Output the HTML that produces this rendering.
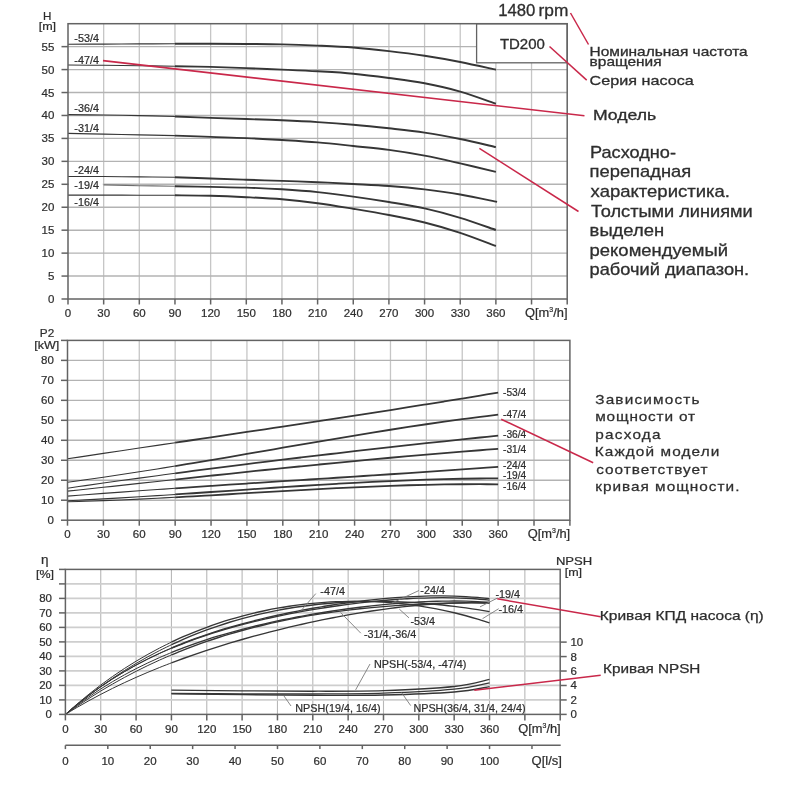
<!DOCTYPE html>
<html><head><meta charset="utf-8"><title>TD200 pump curves</title>
<style>
html,body{margin:0;padding:0;background:#fff;width:800px;height:800px;overflow:hidden}
svg{display:block}
text{font-family:"Liberation Sans", Arial, sans-serif}
</style></head>
<body>
<svg width="800" height="800" viewBox="0 0 800 800">
<rect width="800" height="800" fill="#fff"/>
<line x1="103.66" y1="23.70" x2="103.66" y2="299.00" stroke="#c6c6c6" stroke-width="1.3"/>
<line x1="139.31" y1="23.70" x2="139.31" y2="299.00" stroke="#c6c6c6" stroke-width="1.3"/>
<line x1="174.97" y1="23.70" x2="174.97" y2="299.00" stroke="#c6c6c6" stroke-width="1.3"/>
<line x1="210.63" y1="23.70" x2="210.63" y2="299.00" stroke="#c6c6c6" stroke-width="1.3"/>
<line x1="246.29" y1="23.70" x2="246.29" y2="299.00" stroke="#c6c6c6" stroke-width="1.3"/>
<line x1="281.94" y1="23.70" x2="281.94" y2="299.00" stroke="#c6c6c6" stroke-width="1.3"/>
<line x1="317.60" y1="23.70" x2="317.60" y2="299.00" stroke="#c6c6c6" stroke-width="1.3"/>
<line x1="353.26" y1="23.70" x2="353.26" y2="299.00" stroke="#c6c6c6" stroke-width="1.3"/>
<line x1="388.91" y1="23.70" x2="388.91" y2="299.00" stroke="#c6c6c6" stroke-width="1.3"/>
<line x1="424.57" y1="23.70" x2="424.57" y2="299.00" stroke="#c6c6c6" stroke-width="1.3"/>
<line x1="460.23" y1="23.70" x2="460.23" y2="299.00" stroke="#c6c6c6" stroke-width="1.3"/>
<line x1="495.89" y1="23.70" x2="495.89" y2="299.00" stroke="#c6c6c6" stroke-width="1.3"/>
<line x1="531.54" y1="23.70" x2="531.54" y2="299.00" stroke="#c6c6c6" stroke-width="1.3"/>
<line x1="68.00" y1="276.06" x2="567.20" y2="276.06" stroke="#b3b3b3" stroke-width="1.4"/>
<line x1="68.00" y1="253.12" x2="567.20" y2="253.12" stroke="#b3b3b3" stroke-width="1.4"/>
<line x1="68.00" y1="230.18" x2="567.20" y2="230.18" stroke="#b3b3b3" stroke-width="1.4"/>
<line x1="68.00" y1="207.23" x2="567.20" y2="207.23" stroke="#b3b3b3" stroke-width="1.4"/>
<line x1="68.00" y1="184.29" x2="567.20" y2="184.29" stroke="#b3b3b3" stroke-width="1.4"/>
<line x1="68.00" y1="161.35" x2="567.20" y2="161.35" stroke="#b3b3b3" stroke-width="1.4"/>
<line x1="68.00" y1="138.41" x2="567.20" y2="138.41" stroke="#b3b3b3" stroke-width="1.4"/>
<line x1="68.00" y1="115.47" x2="567.20" y2="115.47" stroke="#b3b3b3" stroke-width="1.4"/>
<line x1="68.00" y1="92.53" x2="567.20" y2="92.53" stroke="#b3b3b3" stroke-width="1.4"/>
<line x1="68.00" y1="69.58" x2="567.20" y2="69.58" stroke="#b3b3b3" stroke-width="1.4"/>
<line x1="68.00" y1="46.64" x2="567.20" y2="46.64" stroke="#b3b3b3" stroke-width="1.4"/>
<path d="M68.00,44.25 C73.94,44.23 91.77,44.16 103.66,44.10 C115.54,44.04 127.43,43.96 139.31,43.90 C151.20,43.84 169.03,43.77 174.97,43.75" fill="none" stroke="#363636" stroke-width="1.1"/>
<path d="M174.97,43.75 C180.91,43.75 198.74,43.71 210.63,43.75 C222.51,43.79 234.40,43.89 246.29,44.00 C258.17,44.11 270.06,44.13 281.94,44.40 C293.83,44.67 305.71,45.08 317.60,45.60 C329.49,46.12 341.37,46.58 353.26,47.50 C365.14,48.42 377.03,49.72 388.91,51.10 C400.80,52.48 412.69,53.98 424.57,55.80 C436.46,57.62 448.34,59.67 460.23,62.00 C472.11,64.33 489.94,68.46 495.89,69.75" fill="none" stroke="#363636" stroke-width="1.9"/>
<path d="M68.00,65.00 C73.94,65.05 91.77,65.18 103.66,65.30 C115.54,65.42 127.43,65.54 139.31,65.70 C151.20,65.86 169.03,66.16 174.97,66.25" fill="none" stroke="#363636" stroke-width="1.1"/>
<path d="M174.97,66.25 C180.91,66.36 198.74,66.59 210.63,66.90 C222.51,67.21 234.40,67.65 246.29,68.10 C258.17,68.55 270.06,69.07 281.94,69.60 C293.83,70.13 305.71,70.62 317.60,71.30 C329.49,71.98 341.37,72.58 353.26,73.70 C365.14,74.82 377.03,76.40 388.91,78.00 C400.80,79.60 412.69,81.03 424.57,83.30 C436.46,85.57 448.34,88.19 460.23,91.60 C472.11,95.01 489.94,101.72 495.89,103.75" fill="none" stroke="#363636" stroke-width="1.9"/>
<path d="M68.00,114.60 C73.94,114.67 91.77,114.83 103.66,115.00 C115.54,115.17 127.43,115.35 139.31,115.60 C151.20,115.85 169.03,116.35 174.97,116.50" fill="none" stroke="#363636" stroke-width="1.1"/>
<path d="M174.97,116.50 C180.91,116.73 198.74,117.48 210.63,117.90 C222.51,118.32 234.40,118.60 246.29,119.00 C258.17,119.40 270.06,119.78 281.94,120.30 C293.83,120.82 305.71,121.37 317.60,122.10 C329.49,122.83 341.37,123.67 353.26,124.70 C365.14,125.73 377.03,126.98 388.91,128.30 C400.80,129.62 412.69,130.82 424.57,132.60 C436.46,134.38 448.34,136.58 460.23,139.00 C472.11,141.42 489.94,145.75 495.89,147.10" fill="none" stroke="#363636" stroke-width="1.9"/>
<path d="M68.00,133.40 C73.94,133.52 91.77,133.85 103.66,134.10 C115.54,134.35 127.43,134.65 139.31,134.90 C151.20,135.15 169.03,135.48 174.97,135.60" fill="none" stroke="#363636" stroke-width="1.1"/>
<path d="M174.97,135.60 C180.91,135.82 198.74,136.48 210.63,136.90 C222.51,137.32 234.40,137.58 246.29,138.10 C258.17,138.62 270.06,139.28 281.94,140.00 C293.83,140.72 305.71,141.40 317.60,142.40 C329.49,143.40 341.37,144.75 353.26,146.00 C365.14,147.25 377.03,148.30 388.91,149.90 C400.80,151.50 412.69,153.35 424.57,155.60 C436.46,157.85 448.34,160.68 460.23,163.40 C472.11,166.12 489.94,170.48 495.89,171.90" fill="none" stroke="#363636" stroke-width="1.9"/>
<path d="M68.00,176.50 C73.94,176.50 91.77,176.43 103.66,176.50 C115.54,176.57 127.43,176.78 139.31,176.90 C151.20,177.03 169.03,177.19 174.97,177.25" fill="none" stroke="#363636" stroke-width="1.1"/>
<path d="M174.97,177.25 C180.91,177.46 198.74,178.08 210.63,178.50 C222.51,178.92 234.40,179.35 246.29,179.75 C258.17,180.15 270.06,180.49 281.94,180.90 C293.83,181.31 305.71,181.68 317.60,182.20 C329.49,182.72 341.37,183.37 353.26,184.00 C365.14,184.63 377.03,185.10 388.91,186.00 C400.80,186.90 412.69,187.98 424.57,189.40 C436.46,190.82 448.14,192.42 460.23,194.50 C472.31,196.58 490.93,200.67 497.07,201.90" fill="none" stroke="#363636" stroke-width="1.9"/>
<path d="M103.66,184.90 C109.60,185.03 127.43,185.47 139.31,185.70 C151.20,185.92 169.03,186.16 174.97,186.25" fill="none" stroke="#6e6e6e" stroke-width="1.1"/>
<path d="M174.97,186.25 C180.91,186.36 198.74,186.68 210.63,186.90 C222.51,187.12 234.40,187.20 246.29,187.60 C258.17,188.00 270.06,188.55 281.94,189.30 C293.83,190.05 305.71,190.88 317.60,192.10 C329.49,193.32 341.37,194.95 353.26,196.60 C365.14,198.25 377.03,200.03 388.91,202.00 C400.80,203.97 412.69,205.77 424.57,208.40 C436.46,211.03 448.34,214.20 460.23,217.80 C472.11,221.40 489.94,227.97 495.89,230.00" fill="none" stroke="#363636" stroke-width="1.9"/>
<path d="M68.00,195.10 C73.94,195.10 91.77,195.08 103.66,195.10 C115.54,195.12 127.43,195.17 139.31,195.20 C151.20,195.22 169.03,195.24 174.97,195.25" fill="none" stroke="#363636" stroke-width="1.1"/>
<path d="M174.97,195.25 C180.91,195.34 198.74,195.48 210.63,195.80 C222.51,196.12 234.40,196.62 246.29,197.20 C258.17,197.78 270.06,198.30 281.94,199.30 C293.83,200.30 305.71,201.62 317.60,203.20 C329.49,204.78 341.37,206.83 353.26,208.80 C365.14,210.77 377.03,212.72 388.91,215.00 C400.80,217.28 412.69,219.53 424.57,222.50 C436.46,225.47 448.34,228.88 460.23,232.80 C472.11,236.72 489.94,243.80 495.89,246.00" fill="none" stroke="#363636" stroke-width="1.9"/>
<rect x="69.0" y="180.2" width="33.8" height="10.6" fill="#fff"/>
<text x="74.30" y="42.00" font-size="10.8" text-anchor="start" fill="#2e2e2e" stroke="#2e2e2e" stroke-width="0.22">-53/4</text>
<text x="74.30" y="63.50" font-size="10.8" text-anchor="start" fill="#2e2e2e" stroke="#2e2e2e" stroke-width="0.22">-47/4</text>
<text x="74.30" y="112.20" font-size="10.8" text-anchor="start" fill="#2e2e2e" stroke="#2e2e2e" stroke-width="0.22">-36/4</text>
<text x="74.30" y="131.90" font-size="10.8" text-anchor="start" fill="#2e2e2e" stroke="#2e2e2e" stroke-width="0.22">-31/4</text>
<text x="74.30" y="174.40" font-size="10.8" text-anchor="start" fill="#2e2e2e" stroke="#2e2e2e" stroke-width="0.22">-24/4</text>
<text x="74.30" y="189.40" font-size="10.8" text-anchor="start" fill="#2e2e2e" stroke="#2e2e2e" stroke-width="0.22">-19/4</text>
<text x="74.30" y="205.60" font-size="10.8" text-anchor="start" fill="#2e2e2e" stroke="#2e2e2e" stroke-width="0.22">-16/4</text>
<rect x="476.6" y="23.70" width="90.60" height="39.10" fill="#fff" stroke="#636363" stroke-width="1.3"/>
<rect x="68.0" y="23.7" width="499.20" height="275.30" fill="none" stroke="#636363" stroke-width="1.5"/>
<line x1="61.50" y1="299.00" x2="68.00" y2="299.00" stroke="#636363" stroke-width="1.5"/>
<text x="54.30" y="303.00" font-size="11.5" text-anchor="end" fill="#2e2e2e" stroke="#2e2e2e" stroke-width="0.22">0</text>
<line x1="61.50" y1="276.06" x2="68.00" y2="276.06" stroke="#636363" stroke-width="1.5"/>
<text x="54.30" y="280.06" font-size="11.5" text-anchor="end" fill="#2e2e2e" stroke="#2e2e2e" stroke-width="0.22">5</text>
<line x1="61.50" y1="253.12" x2="68.00" y2="253.12" stroke="#636363" stroke-width="1.5"/>
<text x="54.30" y="257.12" font-size="11.5" text-anchor="end" fill="#2e2e2e" stroke="#2e2e2e" stroke-width="0.22">10</text>
<line x1="61.50" y1="230.18" x2="68.00" y2="230.18" stroke="#636363" stroke-width="1.5"/>
<text x="54.30" y="234.18" font-size="11.5" text-anchor="end" fill="#2e2e2e" stroke="#2e2e2e" stroke-width="0.22">15</text>
<line x1="61.50" y1="207.23" x2="68.00" y2="207.23" stroke="#636363" stroke-width="1.5"/>
<text x="54.30" y="211.23" font-size="11.5" text-anchor="end" fill="#2e2e2e" stroke="#2e2e2e" stroke-width="0.22">20</text>
<line x1="61.50" y1="184.29" x2="68.00" y2="184.29" stroke="#636363" stroke-width="1.5"/>
<text x="54.30" y="188.29" font-size="11.5" text-anchor="end" fill="#2e2e2e" stroke="#2e2e2e" stroke-width="0.22">25</text>
<line x1="61.50" y1="161.35" x2="68.00" y2="161.35" stroke="#636363" stroke-width="1.5"/>
<text x="54.30" y="165.35" font-size="11.5" text-anchor="end" fill="#2e2e2e" stroke="#2e2e2e" stroke-width="0.22">30</text>
<line x1="61.50" y1="138.41" x2="68.00" y2="138.41" stroke="#636363" stroke-width="1.5"/>
<text x="54.30" y="142.41" font-size="11.5" text-anchor="end" fill="#2e2e2e" stroke="#2e2e2e" stroke-width="0.22">35</text>
<line x1="61.50" y1="115.47" x2="68.00" y2="115.47" stroke="#636363" stroke-width="1.5"/>
<text x="54.30" y="119.47" font-size="11.5" text-anchor="end" fill="#2e2e2e" stroke="#2e2e2e" stroke-width="0.22">40</text>
<line x1="61.50" y1="92.53" x2="68.00" y2="92.53" stroke="#636363" stroke-width="1.5"/>
<text x="54.30" y="96.53" font-size="11.5" text-anchor="end" fill="#2e2e2e" stroke="#2e2e2e" stroke-width="0.22">45</text>
<line x1="61.50" y1="69.58" x2="68.00" y2="69.58" stroke="#636363" stroke-width="1.5"/>
<text x="54.30" y="73.58" font-size="11.5" text-anchor="end" fill="#2e2e2e" stroke="#2e2e2e" stroke-width="0.22">50</text>
<line x1="61.50" y1="46.64" x2="68.00" y2="46.64" stroke="#636363" stroke-width="1.5"/>
<text x="54.30" y="50.64" font-size="11.5" text-anchor="end" fill="#2e2e2e" stroke="#2e2e2e" stroke-width="0.22">55</text>
<line x1="68.00" y1="299.00" x2="68.00" y2="304.50" stroke="#636363" stroke-width="1.5"/>
<text x="68.00" y="317.00" font-size="11.5" text-anchor="middle" fill="#2e2e2e" stroke="#2e2e2e" stroke-width="0.22">0</text>
<line x1="103.66" y1="299.00" x2="103.66" y2="304.50" stroke="#636363" stroke-width="1.5"/>
<text x="103.66" y="317.00" font-size="11.5" text-anchor="middle" fill="#2e2e2e" stroke="#2e2e2e" stroke-width="0.22">30</text>
<line x1="139.31" y1="299.00" x2="139.31" y2="304.50" stroke="#636363" stroke-width="1.5"/>
<text x="139.31" y="317.00" font-size="11.5" text-anchor="middle" fill="#2e2e2e" stroke="#2e2e2e" stroke-width="0.22">60</text>
<line x1="174.97" y1="299.00" x2="174.97" y2="304.50" stroke="#636363" stroke-width="1.5"/>
<text x="174.97" y="317.00" font-size="11.5" text-anchor="middle" fill="#2e2e2e" stroke="#2e2e2e" stroke-width="0.22">90</text>
<line x1="210.63" y1="299.00" x2="210.63" y2="304.50" stroke="#636363" stroke-width="1.5"/>
<text x="210.63" y="317.00" font-size="11.5" text-anchor="middle" fill="#2e2e2e" stroke="#2e2e2e" stroke-width="0.22">120</text>
<line x1="246.29" y1="299.00" x2="246.29" y2="304.50" stroke="#636363" stroke-width="1.5"/>
<text x="246.29" y="317.00" font-size="11.5" text-anchor="middle" fill="#2e2e2e" stroke="#2e2e2e" stroke-width="0.22">150</text>
<line x1="281.94" y1="299.00" x2="281.94" y2="304.50" stroke="#636363" stroke-width="1.5"/>
<text x="281.94" y="317.00" font-size="11.5" text-anchor="middle" fill="#2e2e2e" stroke="#2e2e2e" stroke-width="0.22">180</text>
<line x1="317.60" y1="299.00" x2="317.60" y2="304.50" stroke="#636363" stroke-width="1.5"/>
<text x="317.60" y="317.00" font-size="11.5" text-anchor="middle" fill="#2e2e2e" stroke="#2e2e2e" stroke-width="0.22">210</text>
<line x1="353.26" y1="299.00" x2="353.26" y2="304.50" stroke="#636363" stroke-width="1.5"/>
<text x="353.26" y="317.00" font-size="11.5" text-anchor="middle" fill="#2e2e2e" stroke="#2e2e2e" stroke-width="0.22">240</text>
<line x1="388.91" y1="299.00" x2="388.91" y2="304.50" stroke="#636363" stroke-width="1.5"/>
<text x="388.91" y="317.00" font-size="11.5" text-anchor="middle" fill="#2e2e2e" stroke="#2e2e2e" stroke-width="0.22">270</text>
<line x1="424.57" y1="299.00" x2="424.57" y2="304.50" stroke="#636363" stroke-width="1.5"/>
<text x="424.57" y="317.00" font-size="11.5" text-anchor="middle" fill="#2e2e2e" stroke="#2e2e2e" stroke-width="0.22">300</text>
<line x1="460.23" y1="299.00" x2="460.23" y2="304.50" stroke="#636363" stroke-width="1.5"/>
<text x="460.23" y="317.00" font-size="11.5" text-anchor="middle" fill="#2e2e2e" stroke="#2e2e2e" stroke-width="0.22">330</text>
<line x1="495.89" y1="299.00" x2="495.89" y2="304.50" stroke="#636363" stroke-width="1.5"/>
<text x="495.89" y="317.00" font-size="11.5" text-anchor="middle" fill="#2e2e2e" stroke="#2e2e2e" stroke-width="0.22">360</text>
<line x1="531.54" y1="299.00" x2="531.54" y2="304.50" stroke="#636363" stroke-width="1.5"/>
<line x1="567.20" y1="299.00" x2="567.20" y2="304.50" stroke="#636363" stroke-width="1.5"/>
<text x="525.00" y="317.20" font-size="12" text-anchor="start" textLength="42.5" lengthAdjust="spacingAndGlyphs" fill="#2e2e2e" stroke="#2e2e2e" stroke-width="0.22">Q[m<tspan font-size="6.5" dy="-5">3</tspan><tspan dy="5">/h]</tspan></text>
<text x="43.10" y="19.60" font-size="11.5" text-anchor="start" textLength="8.4" lengthAdjust="spacingAndGlyphs" fill="#2e2e2e" stroke="#2e2e2e" stroke-width="0.22">H</text>
<text x="38.70" y="30.10" font-size="10.8" text-anchor="start" textLength="17.4" lengthAdjust="spacingAndGlyphs" fill="#2e2e2e" stroke="#2e2e2e" stroke-width="0.22">[m]</text>
<line x1="103.39" y1="340.40" x2="103.39" y2="520.20" stroke="#c6c6c6" stroke-width="1.3"/>
<line x1="139.27" y1="340.40" x2="139.27" y2="520.20" stroke="#c6c6c6" stroke-width="1.3"/>
<line x1="175.16" y1="340.40" x2="175.16" y2="520.20" stroke="#c6c6c6" stroke-width="1.3"/>
<line x1="211.04" y1="340.40" x2="211.04" y2="520.20" stroke="#c6c6c6" stroke-width="1.3"/>
<line x1="246.93" y1="340.40" x2="246.93" y2="520.20" stroke="#c6c6c6" stroke-width="1.3"/>
<line x1="282.81" y1="340.40" x2="282.81" y2="520.20" stroke="#c6c6c6" stroke-width="1.3"/>
<line x1="318.70" y1="340.40" x2="318.70" y2="520.20" stroke="#c6c6c6" stroke-width="1.3"/>
<line x1="354.59" y1="340.40" x2="354.59" y2="520.20" stroke="#c6c6c6" stroke-width="1.3"/>
<line x1="390.47" y1="340.40" x2="390.47" y2="520.20" stroke="#c6c6c6" stroke-width="1.3"/>
<line x1="426.36" y1="340.40" x2="426.36" y2="520.20" stroke="#c6c6c6" stroke-width="1.3"/>
<line x1="462.24" y1="340.40" x2="462.24" y2="520.20" stroke="#c6c6c6" stroke-width="1.3"/>
<line x1="498.13" y1="340.40" x2="498.13" y2="520.20" stroke="#c6c6c6" stroke-width="1.3"/>
<line x1="534.01" y1="340.40" x2="534.01" y2="520.20" stroke="#c6c6c6" stroke-width="1.3"/>
<line x1="67.50" y1="500.22" x2="569.90" y2="500.22" stroke="#b3b3b3" stroke-width="1.4"/>
<line x1="67.50" y1="480.24" x2="569.90" y2="480.24" stroke="#b3b3b3" stroke-width="1.4"/>
<line x1="67.50" y1="460.27" x2="569.90" y2="460.27" stroke="#b3b3b3" stroke-width="1.4"/>
<line x1="67.50" y1="440.29" x2="569.90" y2="440.29" stroke="#b3b3b3" stroke-width="1.4"/>
<line x1="67.50" y1="420.31" x2="569.90" y2="420.31" stroke="#b3b3b3" stroke-width="1.4"/>
<line x1="67.50" y1="400.33" x2="569.90" y2="400.33" stroke="#b3b3b3" stroke-width="1.4"/>
<line x1="67.50" y1="380.36" x2="569.90" y2="380.36" stroke="#b3b3b3" stroke-width="1.4"/>
<line x1="67.50" y1="360.38" x2="569.90" y2="360.38" stroke="#b3b3b3" stroke-width="1.4"/>
<path d="M67.50,458.80 C70.49,458.35 79.46,456.99 85.44,456.09 C91.42,455.19 97.40,454.29 103.39,453.39 C109.37,452.49 115.35,451.59 121.33,450.70 C127.31,449.80 133.29,448.91 139.27,448.02 C145.25,447.12 151.23,446.23 157.21,445.34 C163.20,444.45 172.17,443.12 175.16,442.67" fill="none" stroke="#363636" stroke-width="1.1"/>
<path d="M175.16,442.67 C178.15,442.23 187.12,440.89 193.10,440.00 C199.08,439.11 205.06,438.22 211.04,437.33 C217.02,436.44 223.00,435.55 228.99,434.65 C234.97,433.76 240.95,432.87 246.93,431.97 C252.91,431.08 258.89,430.18 264.87,429.29 C270.85,428.39 276.83,427.49 282.81,426.59 C288.80,425.69 294.78,424.78 300.76,423.88 C306.74,422.97 312.72,422.06 318.70,421.15 C324.68,420.24 330.66,419.33 336.64,418.41 C342.62,417.49 348.60,416.57 354.59,415.65 C360.57,414.72 366.55,413.79 372.53,412.86 C378.51,411.93 384.49,410.99 390.47,410.05 C396.45,409.11 402.43,408.17 408.41,407.21 C414.40,406.26 420.38,405.31 426.36,404.35 C432.34,403.39 438.32,402.42 444.30,401.45 C450.28,400.48 456.26,399.50 462.24,398.52 C468.22,397.54 474.20,396.55 480.19,395.55 C486.17,394.56 495.14,393.05 498.13,392.55" fill="none" stroke="#363636" stroke-width="1.8"/>
<path d="M67.50,482.22 C70.49,481.81 79.46,480.62 85.44,479.79 C91.42,478.96 97.40,478.11 103.39,477.24 C109.37,476.37 115.35,475.49 121.33,474.58 C127.31,473.68 133.29,472.76 139.27,471.83 C145.25,470.90 151.23,469.95 157.21,468.99 C163.20,468.03 172.17,466.56 175.16,466.08" fill="none" stroke="#363636" stroke-width="1.1"/>
<path d="M175.16,466.08 C178.15,465.58 187.12,464.10 193.10,463.10 C199.08,462.10 205.06,461.09 211.04,460.08 C217.02,459.06 223.00,458.04 228.99,457.02 C234.97,455.99 240.95,454.96 246.93,453.93 C252.91,452.90 258.89,451.86 264.87,450.83 C270.85,449.80 276.83,448.76 282.81,447.73 C288.80,446.69 294.78,445.66 300.76,444.63 C306.74,443.61 312.72,442.58 318.70,441.56 C324.68,440.54 330.66,439.53 336.64,438.53 C342.62,437.52 348.60,436.52 354.59,435.53 C360.57,434.55 366.55,433.57 372.53,432.60 C378.51,431.63 384.49,430.68 390.47,429.74 C396.45,428.79 402.43,427.86 408.41,426.95 C414.40,426.04 420.38,425.14 426.36,424.26 C432.34,423.38 438.32,422.52 444.30,421.68 C450.28,420.84 456.26,420.01 462.24,419.21 C468.22,418.41 474.20,417.63 480.19,416.87 C486.17,416.12 495.14,415.04 498.13,414.68" fill="none" stroke="#363636" stroke-width="1.8"/>
<path d="M67.50,488.18 C70.49,487.75 79.46,486.46 85.44,485.60 C91.42,484.75 97.40,483.90 103.39,483.06 C109.37,482.22 115.35,481.39 121.33,480.56 C127.31,479.73 133.29,478.91 139.27,478.10 C145.25,477.28 151.23,476.47 157.21,475.67 C163.20,474.87 172.17,473.68 175.16,473.28" fill="none" stroke="#363636" stroke-width="1.1"/>
<path d="M175.16,473.28 C178.15,472.89 187.12,471.71 193.10,470.93 C199.08,470.15 205.06,469.37 211.04,468.61 C217.02,467.84 223.00,467.08 228.99,466.32 C234.97,465.56 240.95,464.81 246.93,464.07 C252.91,463.32 258.89,462.58 264.87,461.85 C270.85,461.11 276.83,460.38 282.81,459.66 C288.80,458.94 294.78,458.22 300.76,457.50 C306.74,456.79 312.72,456.08 318.70,455.38 C324.68,454.67 330.66,453.98 336.64,453.28 C342.62,452.59 348.60,451.90 354.59,451.22 C360.57,450.53 366.55,449.85 372.53,449.18 C378.51,448.50 384.49,447.83 390.47,447.17 C396.45,446.50 402.43,445.84 408.41,445.18 C414.40,444.53 420.38,443.87 426.36,443.23 C432.34,442.58 438.32,441.93 444.30,441.30 C450.28,440.66 456.26,440.02 462.24,439.39 C468.22,438.76 474.20,438.13 480.19,437.51 C486.17,436.88 495.14,435.96 498.13,435.65" fill="none" stroke="#363636" stroke-width="1.8"/>
<path d="M67.50,491.16 C70.49,490.84 79.46,489.87 85.44,489.23 C91.42,488.59 97.40,487.94 103.39,487.30 C109.37,486.65 115.35,486.01 121.33,485.36 C127.31,484.71 133.29,484.06 139.27,483.42 C145.25,482.77 151.23,482.12 157.21,481.48 C163.20,480.83 172.17,479.86 175.16,479.54" fill="none" stroke="#363636" stroke-width="1.1"/>
<path d="M175.16,479.54 C178.15,479.22 187.12,478.25 193.10,477.61 C199.08,476.97 205.06,476.33 211.04,475.69 C217.02,475.05 223.00,474.42 228.99,473.78 C234.97,473.15 240.95,472.52 246.93,471.89 C252.91,471.27 258.89,470.64 264.87,470.02 C270.85,469.40 276.83,468.79 282.81,468.17 C288.80,467.56 294.78,466.96 300.76,466.35 C306.74,465.75 312.72,465.15 318.70,464.56 C324.68,463.97 330.66,463.38 336.64,462.80 C342.62,462.22 348.60,461.64 354.59,461.07 C360.57,460.50 366.55,459.94 372.53,459.38 C378.51,458.83 384.49,458.28 390.47,457.74 C396.45,457.19 402.43,456.66 408.41,456.13 C414.40,455.61 420.38,455.09 426.36,454.58 C432.34,454.07 438.32,453.56 444.30,453.07 C450.28,452.58 456.26,452.09 462.24,451.62 C468.22,451.15 474.20,450.68 480.19,450.23 C486.17,449.77 495.14,449.11 498.13,448.89" fill="none" stroke="#363636" stroke-width="1.8"/>
<path d="M67.50,496.14 C70.49,495.91 79.46,495.21 85.44,494.76 C91.42,494.31 97.40,493.86 103.39,493.41 C109.37,492.97 115.35,492.53 121.33,492.10 C127.31,491.67 133.29,491.24 139.27,490.81 C145.25,490.39 151.23,489.97 157.21,489.55 C163.20,489.13 172.17,488.52 175.16,488.31" fill="none" stroke="#363636" stroke-width="1.1"/>
<path d="M175.16,488.31 C178.15,488.11 187.12,487.50 193.10,487.09 C199.08,486.69 205.06,486.29 211.04,485.89 C217.02,485.49 223.00,485.10 228.99,484.70 C234.97,484.31 240.95,483.92 246.93,483.53 C252.91,483.14 258.89,482.75 264.87,482.36 C270.85,481.98 276.83,481.59 282.81,481.20 C288.80,480.82 294.78,480.43 300.76,480.05 C306.74,479.66 312.72,479.28 318.70,478.89 C324.68,478.51 330.66,478.12 336.64,477.74 C342.62,477.35 348.60,476.96 354.59,476.58 C360.57,476.19 366.55,475.80 372.53,475.41 C378.51,475.02 384.49,474.63 390.47,474.23 C396.45,473.84 402.43,473.44 408.41,473.04 C414.40,472.64 420.38,472.24 426.36,471.84 C432.34,471.43 438.32,471.02 444.30,470.61 C450.28,470.20 456.26,469.79 462.24,469.37 C468.22,468.95 474.20,468.53 480.19,468.10 C486.17,467.68 495.14,467.03 498.13,466.81" fill="none" stroke="#363636" stroke-width="1.8"/>
<path d="M67.50,500.73 C70.49,500.58 79.46,500.16 85.44,499.85 C91.42,499.55 97.40,499.22 103.39,498.89 C109.37,498.56 115.35,498.22 121.33,497.87 C127.31,497.51 133.29,497.15 139.27,496.78 C145.25,496.40 151.23,496.02 157.21,495.64 C163.20,495.25 172.17,494.65 175.16,494.46" fill="none" stroke="#363636" stroke-width="1.1"/>
<path d="M175.16,494.46 C178.15,494.26 187.12,493.66 193.10,493.25 C199.08,492.84 205.06,492.43 211.04,492.02 C217.02,491.61 223.00,491.20 228.99,490.79 C234.97,490.38 240.95,489.97 246.93,489.56 C252.91,489.15 258.89,488.74 264.87,488.34 C270.85,487.94 276.83,487.54 282.81,487.14 C288.80,486.75 294.78,486.36 300.76,485.98 C306.74,485.60 312.72,485.23 318.70,484.86 C324.68,484.50 330.66,484.14 336.64,483.80 C342.62,483.45 348.60,483.12 354.59,482.80 C360.57,482.48 366.55,482.17 372.53,481.88 C378.51,481.58 384.49,481.30 390.47,481.04 C396.45,480.78 402.43,480.53 408.41,480.30 C414.40,480.07 420.38,479.86 426.36,479.67 C432.34,479.48 438.32,479.30 444.30,479.15 C450.28,479.00 456.26,478.87 462.24,478.77 C468.22,478.66 474.20,478.58 480.19,478.52 C486.17,478.46 495.14,478.43 498.13,478.42" fill="none" stroke="#363636" stroke-width="1.8"/>
<path d="M67.50,501.78 C70.49,501.69 79.46,501.46 85.44,501.27 C91.42,501.08 97.40,500.87 103.39,500.65 C109.37,500.43 115.35,500.18 121.33,499.93 C127.31,499.68 133.29,499.41 139.27,499.13 C145.25,498.84 151.23,498.55 157.21,498.25 C163.20,497.94 172.17,497.46 175.16,497.30" fill="none" stroke="#363636" stroke-width="1.1"/>
<path d="M175.16,497.30 C178.15,497.14 187.12,496.65 193.10,496.31 C199.08,495.98 205.06,495.63 211.04,495.29 C217.02,494.94 223.00,494.59 228.99,494.24 C234.97,493.89 240.95,493.53 246.93,493.18 C252.91,492.83 258.89,492.47 264.87,492.12 C270.85,491.77 276.83,491.42 282.81,491.08 C288.80,490.74 294.78,490.40 300.76,490.06 C306.74,489.73 312.72,489.40 318.70,489.09 C324.68,488.77 330.66,488.46 336.64,488.17 C342.62,487.87 348.60,487.58 354.59,487.31 C360.57,487.04 366.55,486.77 372.53,486.53 C378.51,486.28 384.49,486.05 390.47,485.84 C396.45,485.63 402.43,485.43 408.41,485.26 C414.40,485.08 420.38,484.92 426.36,484.79 C432.34,484.65 438.32,484.54 444.30,484.45 C450.28,484.36 456.26,484.29 462.24,484.25 C468.22,484.21 474.20,484.19 480.19,484.21 C486.17,484.22 495.14,484.31 498.13,484.33" fill="none" stroke="#363636" stroke-width="1.8"/>
<text x="503.00" y="395.80" font-size="10.2" text-anchor="start" fill="#2e2e2e" stroke="#2e2e2e" stroke-width="0.22">-53/4</text>
<text x="503.00" y="417.70" font-size="10.2" text-anchor="start" fill="#2e2e2e" stroke="#2e2e2e" stroke-width="0.22">-47/4</text>
<text x="503.00" y="438.30" font-size="10.2" text-anchor="start" fill="#2e2e2e" stroke="#2e2e2e" stroke-width="0.22">-36/4</text>
<text x="503.00" y="452.80" font-size="10.2" text-anchor="start" fill="#2e2e2e" stroke="#2e2e2e" stroke-width="0.22">-31/4</text>
<text x="503.00" y="469.30" font-size="10.2" text-anchor="start" fill="#2e2e2e" stroke="#2e2e2e" stroke-width="0.22">-24/4</text>
<text x="503.00" y="478.80" font-size="10.2" text-anchor="start" fill="#2e2e2e" stroke="#2e2e2e" stroke-width="0.22">-19/4</text>
<text x="503.00" y="490.30" font-size="10.2" text-anchor="start" fill="#2e2e2e" stroke="#2e2e2e" stroke-width="0.22">-16/4</text>
<rect x="67.5" y="340.4" width="502.40" height="179.80" fill="none" stroke="#636363" stroke-width="1.5"/>
<line x1="61.00" y1="520.20" x2="67.50" y2="520.20" stroke="#636363" stroke-width="1.5"/>
<text x="53.80" y="524.20" font-size="11.5" text-anchor="end" fill="#2e2e2e" stroke="#2e2e2e" stroke-width="0.22">0</text>
<line x1="61.00" y1="500.22" x2="67.50" y2="500.22" stroke="#636363" stroke-width="1.5"/>
<text x="53.80" y="504.22" font-size="11.5" text-anchor="end" fill="#2e2e2e" stroke="#2e2e2e" stroke-width="0.22">10</text>
<line x1="61.00" y1="480.24" x2="67.50" y2="480.24" stroke="#636363" stroke-width="1.5"/>
<text x="53.80" y="484.24" font-size="11.5" text-anchor="end" fill="#2e2e2e" stroke="#2e2e2e" stroke-width="0.22">20</text>
<line x1="61.00" y1="460.27" x2="67.50" y2="460.27" stroke="#636363" stroke-width="1.5"/>
<text x="53.80" y="464.27" font-size="11.5" text-anchor="end" fill="#2e2e2e" stroke="#2e2e2e" stroke-width="0.22">30</text>
<line x1="61.00" y1="440.29" x2="67.50" y2="440.29" stroke="#636363" stroke-width="1.5"/>
<text x="53.80" y="444.29" font-size="11.5" text-anchor="end" fill="#2e2e2e" stroke="#2e2e2e" stroke-width="0.22">40</text>
<line x1="61.00" y1="420.31" x2="67.50" y2="420.31" stroke="#636363" stroke-width="1.5"/>
<text x="53.80" y="424.31" font-size="11.5" text-anchor="end" fill="#2e2e2e" stroke="#2e2e2e" stroke-width="0.22">50</text>
<line x1="61.00" y1="400.33" x2="67.50" y2="400.33" stroke="#636363" stroke-width="1.5"/>
<text x="53.80" y="404.33" font-size="11.5" text-anchor="end" fill="#2e2e2e" stroke="#2e2e2e" stroke-width="0.22">60</text>
<line x1="61.00" y1="380.36" x2="67.50" y2="380.36" stroke="#636363" stroke-width="1.5"/>
<text x="53.80" y="384.36" font-size="11.5" text-anchor="end" fill="#2e2e2e" stroke="#2e2e2e" stroke-width="0.22">70</text>
<line x1="61.00" y1="360.38" x2="67.50" y2="360.38" stroke="#636363" stroke-width="1.5"/>
<text x="53.80" y="364.38" font-size="11.5" text-anchor="end" fill="#2e2e2e" stroke="#2e2e2e" stroke-width="0.22">80</text>
<line x1="61.00" y1="340.40" x2="67.50" y2="340.40" stroke="#636363" stroke-width="1.5"/>
<line x1="67.50" y1="520.20" x2="67.50" y2="525.70" stroke="#636363" stroke-width="1.5"/>
<text x="67.50" y="538.00" font-size="11.5" text-anchor="middle" fill="#2e2e2e" stroke="#2e2e2e" stroke-width="0.22">0</text>
<line x1="103.39" y1="520.20" x2="103.39" y2="525.70" stroke="#636363" stroke-width="1.5"/>
<text x="103.39" y="538.00" font-size="11.5" text-anchor="middle" fill="#2e2e2e" stroke="#2e2e2e" stroke-width="0.22">30</text>
<line x1="139.27" y1="520.20" x2="139.27" y2="525.70" stroke="#636363" stroke-width="1.5"/>
<text x="139.27" y="538.00" font-size="11.5" text-anchor="middle" fill="#2e2e2e" stroke="#2e2e2e" stroke-width="0.22">60</text>
<line x1="175.16" y1="520.20" x2="175.16" y2="525.70" stroke="#636363" stroke-width="1.5"/>
<text x="175.16" y="538.00" font-size="11.5" text-anchor="middle" fill="#2e2e2e" stroke="#2e2e2e" stroke-width="0.22">90</text>
<line x1="211.04" y1="520.20" x2="211.04" y2="525.70" stroke="#636363" stroke-width="1.5"/>
<text x="211.04" y="538.00" font-size="11.5" text-anchor="middle" fill="#2e2e2e" stroke="#2e2e2e" stroke-width="0.22">120</text>
<line x1="246.93" y1="520.20" x2="246.93" y2="525.70" stroke="#636363" stroke-width="1.5"/>
<text x="246.93" y="538.00" font-size="11.5" text-anchor="middle" fill="#2e2e2e" stroke="#2e2e2e" stroke-width="0.22">150</text>
<line x1="282.81" y1="520.20" x2="282.81" y2="525.70" stroke="#636363" stroke-width="1.5"/>
<text x="282.81" y="538.00" font-size="11.5" text-anchor="middle" fill="#2e2e2e" stroke="#2e2e2e" stroke-width="0.22">180</text>
<line x1="318.70" y1="520.20" x2="318.70" y2="525.70" stroke="#636363" stroke-width="1.5"/>
<text x="318.70" y="538.00" font-size="11.5" text-anchor="middle" fill="#2e2e2e" stroke="#2e2e2e" stroke-width="0.22">210</text>
<line x1="354.59" y1="520.20" x2="354.59" y2="525.70" stroke="#636363" stroke-width="1.5"/>
<text x="354.59" y="538.00" font-size="11.5" text-anchor="middle" fill="#2e2e2e" stroke="#2e2e2e" stroke-width="0.22">240</text>
<line x1="390.47" y1="520.20" x2="390.47" y2="525.70" stroke="#636363" stroke-width="1.5"/>
<text x="390.47" y="538.00" font-size="11.5" text-anchor="middle" fill="#2e2e2e" stroke="#2e2e2e" stroke-width="0.22">270</text>
<line x1="426.36" y1="520.20" x2="426.36" y2="525.70" stroke="#636363" stroke-width="1.5"/>
<text x="426.36" y="538.00" font-size="11.5" text-anchor="middle" fill="#2e2e2e" stroke="#2e2e2e" stroke-width="0.22">300</text>
<line x1="462.24" y1="520.20" x2="462.24" y2="525.70" stroke="#636363" stroke-width="1.5"/>
<text x="462.24" y="538.00" font-size="11.5" text-anchor="middle" fill="#2e2e2e" stroke="#2e2e2e" stroke-width="0.22">330</text>
<line x1="498.13" y1="520.20" x2="498.13" y2="525.70" stroke="#636363" stroke-width="1.5"/>
<text x="498.13" y="538.00" font-size="11.5" text-anchor="middle" fill="#2e2e2e" stroke="#2e2e2e" stroke-width="0.22">360</text>
<line x1="534.01" y1="520.20" x2="534.01" y2="525.70" stroke="#636363" stroke-width="1.5"/>
<line x1="569.90" y1="520.20" x2="569.90" y2="525.70" stroke="#636363" stroke-width="1.5"/>
<text x="527.70" y="538.20" font-size="12" text-anchor="start" textLength="42.5" lengthAdjust="spacingAndGlyphs" fill="#2e2e2e" stroke="#2e2e2e" stroke-width="0.22">Q[m<tspan font-size="6.5" dy="-5">3</tspan><tspan dy="5">/h]</tspan></text>
<text x="39.80" y="336.90" font-size="11.5" text-anchor="start" textLength="14.4" lengthAdjust="spacingAndGlyphs" fill="#2e2e2e" stroke="#2e2e2e" stroke-width="0.22">P2</text>
<text x="34.30" y="349.10" font-size="10.8" text-anchor="start" textLength="24.9" lengthAdjust="spacingAndGlyphs" fill="#2e2e2e" stroke="#2e2e2e" stroke-width="0.22">[kW]</text>
<line x1="100.74" y1="569.40" x2="100.74" y2="714.40" stroke="#b8b8b8" stroke-width="1.1"/>
<line x1="136.09" y1="569.40" x2="136.09" y2="714.40" stroke="#b8b8b8" stroke-width="1.1"/>
<line x1="171.43" y1="569.40" x2="171.43" y2="714.40" stroke="#b8b8b8" stroke-width="1.1"/>
<line x1="206.77" y1="569.40" x2="206.77" y2="714.40" stroke="#b8b8b8" stroke-width="1.1"/>
<line x1="242.11" y1="569.40" x2="242.11" y2="714.40" stroke="#b8b8b8" stroke-width="1.1"/>
<line x1="277.46" y1="569.40" x2="277.46" y2="714.40" stroke="#b8b8b8" stroke-width="1.1"/>
<line x1="312.80" y1="569.40" x2="312.80" y2="714.40" stroke="#b8b8b8" stroke-width="1.1"/>
<line x1="348.14" y1="569.40" x2="348.14" y2="714.40" stroke="#b8b8b8" stroke-width="1.1"/>
<line x1="383.49" y1="569.40" x2="383.49" y2="714.40" stroke="#b8b8b8" stroke-width="1.1"/>
<line x1="418.83" y1="569.40" x2="418.83" y2="714.40" stroke="#b8b8b8" stroke-width="1.1"/>
<line x1="454.17" y1="569.40" x2="454.17" y2="714.40" stroke="#b8b8b8" stroke-width="1.1"/>
<line x1="489.51" y1="569.40" x2="489.51" y2="714.40" stroke="#b8b8b8" stroke-width="1.1"/>
<line x1="524.86" y1="569.40" x2="524.86" y2="714.40" stroke="#b8b8b8" stroke-width="1.1"/>
<line x1="65.40" y1="699.90" x2="560.20" y2="699.90" stroke="#cecece" stroke-width="1.6"/>
<line x1="65.40" y1="685.40" x2="560.20" y2="685.40" stroke="#cecece" stroke-width="1.6"/>
<line x1="65.40" y1="670.90" x2="560.20" y2="670.90" stroke="#cecece" stroke-width="1.6"/>
<line x1="65.40" y1="656.40" x2="560.20" y2="656.40" stroke="#cecece" stroke-width="1.6"/>
<line x1="65.40" y1="641.90" x2="560.20" y2="641.90" stroke="#cecece" stroke-width="1.6"/>
<line x1="65.40" y1="627.40" x2="560.20" y2="627.40" stroke="#cecece" stroke-width="1.6"/>
<line x1="65.40" y1="612.90" x2="560.20" y2="612.90" stroke="#cecece" stroke-width="1.6"/>
<line x1="65.40" y1="598.40" x2="560.20" y2="598.40" stroke="#cecece" stroke-width="1.6"/>
<line x1="65.40" y1="583.90" x2="560.20" y2="583.90" stroke="#cecece" stroke-width="1.6"/>
<path d="M65.40,714.40 C67.36,712.66 73.25,707.32 77.18,703.95 C81.11,700.58 85.03,697.32 88.96,694.17 C92.89,691.02 96.82,687.98 100.74,685.03 C104.67,682.09 108.60,679.25 112.52,676.51 C116.45,673.77 120.38,671.12 124.30,668.57 C128.23,666.02 132.16,663.56 136.09,661.19 C140.01,658.82 143.94,656.54 147.87,654.34 C151.79,652.14 155.72,650.03 159.65,647.99 C163.57,645.96 169.47,643.11 171.43,642.13" fill="none" stroke="#363636" stroke-width="1.0"/>
<path d="M171.43,642.13 C173.39,641.23 179.28,638.46 183.21,636.74 C187.14,635.01 191.06,633.37 194.99,631.79 C198.92,630.21 202.84,628.70 206.77,627.26 C210.70,625.82 214.63,624.45 218.55,623.14 C222.48,621.84 226.41,620.60 230.33,619.42 C234.26,618.24 238.19,617.13 242.11,616.07 C246.04,615.02 249.97,614.03 253.90,613.09 C257.82,612.16 261.75,611.29 265.68,610.47 C269.60,609.65 273.53,608.89 277.46,608.19 C281.38,607.48 285.31,606.83 289.24,606.24 C293.17,605.65 297.09,605.11 301.02,604.62 C304.95,604.14 308.87,603.71 312.80,603.33 C316.73,602.95 320.65,602.62 324.58,602.35 C328.51,602.08 332.43,601.86 336.36,601.69 C340.29,601.52 344.22,601.41 348.14,601.34 C352.07,601.28 356.00,601.27 359.92,601.31 C363.85,601.35 367.78,601.44 371.70,601.59 C375.63,601.73 379.56,601.93 383.49,602.18 C387.41,602.44 391.34,602.74 395.27,603.10 C399.19,603.46 403.12,603.88 407.05,604.35 C410.97,604.82 414.90,605.34 418.83,605.93 C422.76,606.51 426.68,607.15 430.61,607.85 C434.54,608.54 438.46,609.30 442.39,610.12 C446.32,610.93 450.24,611.81 454.17,612.75 C458.10,613.69 462.03,614.69 465.95,615.76 C469.88,616.82 473.81,617.95 477.73,619.15 C481.66,620.35 487.55,622.32 489.51,622.95" fill="none" stroke="#363636" stroke-width="1.35"/>
<path d="M65.40,714.40 C67.36,712.75 73.25,707.72 77.18,704.53 C81.11,701.34 85.03,698.24 88.96,695.24 C92.89,692.23 96.82,689.32 100.74,686.50 C104.67,683.68 108.60,680.95 112.52,678.31 C116.45,675.66 120.38,673.10 124.30,670.63 C128.23,668.15 132.16,665.76 136.09,663.45 C140.01,661.14 143.94,658.91 147.87,656.76 C151.79,654.60 155.72,652.53 159.65,650.53 C163.57,648.53 169.47,645.71 171.43,644.75" fill="none" stroke="#363636" stroke-width="1.0"/>
<path d="M171.43,644.75 C173.39,643.86 179.28,641.11 183.21,639.40 C187.14,637.68 191.06,636.04 194.99,634.47 C198.92,632.89 202.84,631.38 206.77,629.94 C210.70,628.49 214.63,627.11 218.55,625.79 C222.48,624.47 226.41,623.22 230.33,622.02 C234.26,620.82 238.19,619.69 242.11,618.61 C246.04,617.53 249.97,616.51 253.90,615.54 C257.82,614.57 261.75,613.66 265.68,612.81 C269.60,611.95 273.53,611.15 277.46,610.39 C281.38,609.64 285.31,608.94 289.24,608.29 C293.17,607.64 297.09,607.04 301.02,606.49 C304.95,605.94 308.87,605.43 312.80,604.98 C316.73,604.52 320.65,604.11 324.58,603.74 C328.51,603.37 332.43,603.05 336.36,602.78 C340.29,602.50 344.22,602.27 348.14,602.07 C352.07,601.88 356.00,601.73 359.92,601.62 C363.85,601.52 367.78,601.45 371.70,601.42 C375.63,601.39 379.56,601.41 383.49,601.46 C387.41,601.51 391.34,601.60 395.27,601.72 C399.19,601.85 403.12,602.02 407.05,602.22 C410.97,602.42 414.90,602.66 418.83,602.93 C422.76,603.21 426.68,603.52 430.61,603.86 C434.54,604.21 438.46,604.59 442.39,605.01 C446.32,605.42 450.24,605.87 454.17,606.36 C458.10,606.84 462.03,607.36 465.95,607.91 C469.88,608.46 473.81,609.05 477.73,609.67 C481.66,610.29 487.55,611.30 489.51,611.63" fill="none" stroke="#363636" stroke-width="1.35"/>
<path d="M65.40,714.40 C67.36,712.74 73.25,707.61 77.18,704.41 C81.11,701.21 85.03,698.15 88.96,695.20 C92.89,692.25 96.82,689.43 100.74,686.71 C104.67,683.99 108.60,681.39 112.52,678.88 C116.45,676.37 120.38,673.97 124.30,671.66 C128.23,669.35 132.16,667.14 136.09,665.01 C140.01,662.88 143.94,660.84 147.87,658.87 C151.79,656.91 155.72,655.03 159.65,653.22 C163.57,651.40 169.47,648.86 171.43,647.99" fill="none" stroke="#363636" stroke-width="1.0"/>
<path d="M171.43,647.99 C173.39,647.19 179.28,644.71 183.21,643.16 C187.14,641.61 191.06,640.13 194.99,638.70 C198.92,637.27 202.84,635.89 206.77,634.57 C210.70,633.24 214.63,631.96 218.55,630.73 C222.48,629.50 226.41,628.32 230.33,627.17 C234.26,626.03 238.19,624.93 242.11,623.86 C246.04,622.80 249.97,621.78 253.90,620.79 C257.82,619.79 261.75,618.84 265.68,617.92 C269.60,616.99 273.53,616.10 277.46,615.24 C281.38,614.38 285.31,613.55 289.24,612.75 C293.17,611.95 297.09,611.18 301.02,610.43 C304.95,609.68 308.87,608.96 312.80,608.27 C316.73,607.58 320.65,606.91 324.58,606.27 C328.51,605.63 332.43,605.02 336.36,604.43 C340.29,603.84 344.22,603.28 348.14,602.74 C352.07,602.21 356.00,601.70 359.92,601.22 C363.85,600.74 367.78,600.28 371.70,599.86 C375.63,599.43 379.56,599.04 383.49,598.67 C387.41,598.31 391.34,597.98 395.27,597.68 C399.19,597.38 403.12,597.11 407.05,596.88 C410.97,596.65 414.90,596.45 418.83,596.30 C422.76,596.14 426.68,596.02 430.61,595.95 C434.54,595.88 438.46,595.85 442.39,595.87 C446.32,595.89 450.24,595.95 454.17,596.07 C458.10,596.18 462.03,596.35 465.95,596.58 C469.88,596.80 473.81,597.08 477.73,597.43 C481.66,597.78 487.55,598.45 489.51,598.66" fill="none" stroke="#363636" stroke-width="1.35"/>
<path d="M65.40,714.40 C67.36,712.73 73.25,707.61 77.18,704.41 C81.11,701.21 85.03,698.15 88.96,695.20 C92.89,692.26 96.82,689.44 100.74,686.72 C104.67,684.01 108.60,681.41 112.52,678.91 C116.45,676.42 120.38,674.03 124.30,671.73 C128.23,669.43 132.16,667.23 136.09,665.11 C140.01,663.00 143.94,660.98 147.87,659.03 C151.79,657.08 155.72,655.22 159.65,653.42 C163.57,651.63 169.47,649.12 171.43,648.26" fill="none" stroke="#363636" stroke-width="1.0"/>
<path d="M171.43,648.26 C173.39,647.47 179.28,645.03 183.21,643.51 C187.14,641.98 191.06,640.52 194.99,639.12 C198.92,637.71 202.84,636.37 206.77,635.07 C210.70,633.77 214.63,632.52 218.55,631.32 C222.48,630.12 226.41,628.97 230.33,627.86 C234.26,626.74 238.19,625.68 242.11,624.64 C246.04,623.61 249.97,622.62 253.90,621.66 C257.82,620.71 261.75,619.79 265.68,618.90 C269.60,618.01 273.53,617.15 277.46,616.32 C281.38,615.50 285.31,614.70 289.24,613.93 C293.17,613.16 297.09,612.43 301.02,611.71 C304.95,611.00 308.87,610.31 312.80,609.65 C316.73,608.99 320.65,608.36 324.58,607.75 C328.51,607.13 332.43,606.55 336.36,605.99 C340.29,605.43 344.22,604.89 348.14,604.38 C352.07,603.87 356.00,603.39 359.92,602.93 C363.85,602.47 367.78,602.04 371.70,601.63 C375.63,601.23 379.56,600.85 383.49,600.50 C387.41,600.15 391.34,599.82 395.27,599.53 C399.19,599.24 403.12,598.98 407.05,598.76 C410.97,598.53 414.90,598.33 418.83,598.18 C422.76,598.02 426.68,597.90 430.61,597.82 C434.54,597.74 438.46,597.69 442.39,597.69 C446.32,597.69 450.24,597.74 454.17,597.83 C458.10,597.92 462.03,598.06 465.95,598.25 C469.88,598.44 473.81,598.68 477.73,598.99 C481.66,599.29 487.55,599.89 489.51,600.07" fill="none" stroke="#363636" stroke-width="1.35"/>
<path d="M65.40,714.40 C67.36,712.88 73.25,708.20 77.18,705.26 C81.11,702.33 85.03,699.51 88.96,696.79 C92.89,694.07 96.82,691.46 100.74,688.94 C104.67,686.42 108.60,684.00 112.52,681.66 C116.45,679.33 120.38,677.08 124.30,674.92 C128.23,672.75 132.16,670.68 136.09,668.67 C140.01,666.67 143.94,664.74 147.87,662.88 C151.79,661.03 155.72,659.24 159.65,657.52 C163.57,655.80 169.47,653.38 171.43,652.55" fill="none" stroke="#363636" stroke-width="1.0"/>
<path d="M171.43,652.55 C173.39,651.78 179.28,649.42 183.21,647.93 C187.14,646.45 191.06,645.03 194.99,643.65 C198.92,642.27 202.84,640.95 206.77,639.67 C210.70,638.39 214.63,637.16 218.55,635.97 C222.48,634.78 226.41,633.64 230.33,632.53 C234.26,631.43 238.19,630.36 242.11,629.33 C246.04,628.30 249.97,627.31 253.90,626.34 C257.82,625.38 261.75,624.46 265.68,623.56 C269.60,622.66 273.53,621.80 277.46,620.96 C281.38,620.13 285.31,619.32 289.24,618.54 C293.17,617.76 297.09,617.01 301.02,616.29 C304.95,615.56 308.87,614.86 312.80,614.19 C316.73,613.51 320.65,612.86 324.58,612.24 C328.51,611.61 332.43,611.01 336.36,610.43 C340.29,609.86 344.22,609.30 348.14,608.78 C352.07,608.25 356.00,607.74 359.92,607.26 C363.85,606.78 367.78,606.33 371.70,605.89 C375.63,605.46 379.56,605.06 383.49,604.68 C387.41,604.30 391.34,603.94 395.27,603.62 C399.19,603.29 403.12,602.99 407.05,602.72 C410.97,602.45 414.90,602.21 418.83,602.00 C422.76,601.80 426.68,601.62 430.61,601.47 C434.54,601.33 438.46,601.22 442.39,601.14 C446.32,601.07 450.24,601.03 454.17,601.03 C458.10,601.04 462.03,601.08 465.95,601.16 C469.88,601.25 473.81,601.37 477.73,601.55 C481.66,601.72 487.55,602.10 489.51,602.21" fill="none" stroke="#363636" stroke-width="1.35"/>
<path d="M65.40,714.40 C67.36,713.03 73.25,708.84 77.18,706.17 C81.11,703.50 85.03,700.91 88.96,698.39 C92.89,695.86 96.82,693.41 100.74,691.02 C104.67,688.64 108.60,686.32 112.52,684.07 C116.45,681.82 120.38,679.63 124.30,677.51 C128.23,675.38 132.16,673.33 136.09,671.33 C140.01,669.33 143.94,667.39 147.87,665.51 C151.79,663.63 155.72,661.81 159.65,660.04 C163.57,658.28 169.47,655.77 171.43,654.91" fill="none" stroke="#363636" stroke-width="1.0"/>
<path d="M171.43,654.91 C173.39,654.11 179.28,651.66 183.21,650.11 C187.14,648.56 191.06,647.06 194.99,645.61 C198.92,644.16 202.84,642.76 206.77,641.41 C210.70,640.06 214.63,638.76 218.55,637.50 C222.48,636.24 226.41,635.03 230.33,633.86 C234.26,632.69 238.19,631.57 242.11,630.48 C246.04,629.40 249.97,628.36 253.90,627.35 C257.82,626.35 261.75,625.39 265.68,624.47 C269.60,623.54 273.53,622.66 277.46,621.81 C281.38,620.96 285.31,620.14 289.24,619.36 C293.17,618.58 297.09,617.84 301.02,617.13 C304.95,616.42 308.87,615.74 312.80,615.10 C316.73,614.45 320.65,613.83 324.58,613.25 C328.51,612.66 332.43,612.11 336.36,611.58 C340.29,611.06 344.22,610.56 348.14,610.09 C352.07,609.62 356.00,609.17 359.92,608.76 C363.85,608.34 367.78,607.95 371.70,607.58 C375.63,607.21 379.56,606.87 383.49,606.55 C387.41,606.23 391.34,605.93 395.27,605.66 C399.19,605.38 403.12,605.13 407.05,604.90 C410.97,604.67 414.90,604.46 418.83,604.27 C422.76,604.07 426.68,603.90 430.61,603.75 C434.54,603.60 438.46,603.47 442.39,603.35 C446.32,603.24 450.24,603.14 454.17,603.06 C458.10,602.98 462.03,602.92 465.95,602.87 C469.88,602.82 473.81,602.79 477.73,602.77 C481.66,602.76 487.55,602.77 489.51,602.77" fill="none" stroke="#363636" stroke-width="1.35"/>
<path d="M65.40,714.40 C67.36,713.22 73.25,709.63 77.18,707.34 C81.11,705.05 85.03,702.83 88.96,700.67 C92.89,698.50 96.82,696.40 100.74,694.36 C104.67,692.31 108.60,690.32 112.52,688.39 C116.45,686.45 120.38,684.57 124.30,682.73 C128.23,680.90 132.16,679.11 136.09,677.37 C140.01,675.63 143.94,673.94 147.87,672.29 C151.79,670.64 155.72,669.03 159.65,667.46 C163.57,665.89 169.47,663.63 171.43,662.87" fill="none" stroke="#363636" stroke-width="1.0"/>
<path d="M171.43,662.87 C173.39,662.14 179.28,659.92 183.21,658.50 C187.14,657.08 191.06,655.69 194.99,654.34 C198.92,652.98 202.84,651.66 206.77,650.37 C210.70,649.07 214.63,647.81 218.55,646.58 C222.48,645.35 226.41,644.14 230.33,642.97 C234.26,641.79 238.19,640.64 242.11,639.51 C246.04,638.39 249.97,637.29 253.90,636.22 C257.82,635.14 261.75,634.09 265.68,633.07 C269.60,632.04 273.53,631.04 277.46,630.06 C281.38,629.08 285.31,628.13 289.24,627.20 C293.17,626.26 297.09,625.35 301.02,624.47 C304.95,623.58 308.87,622.72 312.80,621.87 C316.73,621.03 320.65,620.21 324.58,619.42 C328.51,618.62 332.43,617.85 336.36,617.10 C340.29,616.35 344.22,615.63 348.14,614.93 C352.07,614.23 356.00,613.55 359.92,612.90 C363.85,612.25 367.78,611.62 371.70,611.03 C375.63,610.43 379.56,609.85 383.49,609.31 C387.41,608.77 391.34,608.25 395.27,607.77 C399.19,607.28 403.12,606.82 407.05,606.40 C410.97,605.98 414.90,605.58 418.83,605.23 C422.76,604.87 426.68,604.54 430.61,604.25 C434.54,603.97 438.46,603.71 442.39,603.50 C446.32,603.29 450.24,603.11 454.17,602.98 C458.10,602.85 462.03,602.76 465.95,602.71 C469.88,602.67 473.81,602.67 477.73,602.72 C481.66,602.76 487.55,602.96 489.51,603.01" fill="none" stroke="#363636" stroke-width="1.35"/>
<path d="M171.43,690.10 C183.21,690.22 218.55,690.62 242.11,690.80 C265.68,690.98 289.24,691.23 312.80,691.20 C336.36,691.17 359.92,691.38 383.49,690.60 C407.05,689.82 436.50,688.37 454.17,686.50 C471.84,684.63 483.62,680.58 489.51,679.40" fill="none" stroke="#363636" stroke-width="1.35"/>
<path d="M171.43,693.30 C183.21,693.40 218.55,693.78 242.11,693.90 C265.68,694.02 289.24,694.12 312.80,694.00 C336.36,693.88 359.92,694.00 383.49,693.20 C407.05,692.40 436.50,690.93 454.17,689.20 C471.84,687.47 483.62,683.87 489.51,682.80" fill="none" stroke="#363636" stroke-width="1.35"/>
<path d="M171.43,693.90 C183.21,694.02 218.55,694.37 242.11,694.60 C265.68,694.83 289.24,695.23 312.80,695.30 C336.36,695.37 359.92,695.55 383.49,695.00 C407.05,694.45 436.50,693.38 454.17,692.00 C471.84,690.62 483.62,687.58 489.51,686.70" fill="none" stroke="#363636" stroke-width="1.35"/>
<line x1="300.60" y1="611.20" x2="315.80" y2="593.60" stroke="#7a7a7a" stroke-width="0.9"/>
<line x1="392.00" y1="603.00" x2="419.00" y2="590.50" stroke="#7a7a7a" stroke-width="0.9"/>
<line x1="399.30" y1="609.10" x2="409.00" y2="617.90" stroke="#7a7a7a" stroke-width="0.9"/>
<line x1="340.60" y1="612.50" x2="360.80" y2="633.20" stroke="#7a7a7a" stroke-width="0.9"/>
<line x1="480.00" y1="606.90" x2="497.50" y2="598.00" stroke="#7a7a7a" stroke-width="0.9"/>
<line x1="482.50" y1="618.70" x2="498.70" y2="608.70" stroke="#7a7a7a" stroke-width="0.9"/>
<line x1="355.60" y1="689.90" x2="370.00" y2="664.00" stroke="#7a7a7a" stroke-width="0.9"/>
<line x1="284.00" y1="696.00" x2="291.00" y2="706.00" stroke="#7a7a7a" stroke-width="0.9"/>
<line x1="401.50" y1="692.50" x2="410.70" y2="705.60" stroke="#7a7a7a" stroke-width="0.9"/>
<text x="320.30" y="595.40" font-size="10.8" text-anchor="start" fill="#2e2e2e" stroke="#2e2e2e" stroke-width="0.22">-47/4</text>
<text x="420.30" y="594.00" font-size="10.8" text-anchor="start" fill="#2e2e2e" stroke="#2e2e2e" stroke-width="0.22">-24/4</text>
<text x="410.40" y="624.60" font-size="10.8" text-anchor="start" fill="#2e2e2e" stroke="#2e2e2e" stroke-width="0.22">-53/4</text>
<text x="364.00" y="638.00" font-size="10.8" text-anchor="start" fill="#2e2e2e" stroke="#2e2e2e" stroke-width="0.22">-31/4,-36/4</text>
<text x="495.50" y="597.50" font-size="10.8" text-anchor="start" fill="#2e2e2e" stroke="#2e2e2e" stroke-width="0.22">-19/4</text>
<text x="498.50" y="612.50" font-size="10.8" text-anchor="start" fill="#2e2e2e" stroke="#2e2e2e" stroke-width="0.22">-16/4</text>
<text x="374.00" y="667.80" font-size="10.8" text-anchor="start" fill="#2e2e2e" stroke="#2e2e2e" stroke-width="0.22">NPSH(-53/4, -47/4)</text>
<text x="295.30" y="711.50" font-size="10.8" text-anchor="start" fill="#2e2e2e" stroke="#2e2e2e" stroke-width="0.22">NPSH(19/4, 16/4)</text>
<text x="413.40" y="711.50" font-size="10.8" text-anchor="start" fill="#2e2e2e" stroke="#2e2e2e" stroke-width="0.22">NPSH(36/4, 31/4, 24/4)</text>
<rect x="65.4" y="569.4" width="494.80" height="145.00" fill="none" stroke="#636363" stroke-width="1.5"/>
<line x1="59.00" y1="714.40" x2="65.40" y2="714.40" stroke="#636363" stroke-width="1.5"/>
<text x="52.00" y="718.40" font-size="11.5" text-anchor="end" fill="#2e2e2e" stroke="#2e2e2e" stroke-width="0.22">0</text>
<line x1="59.00" y1="699.90" x2="65.40" y2="699.90" stroke="#636363" stroke-width="1.5"/>
<text x="52.00" y="703.90" font-size="11.5" text-anchor="end" fill="#2e2e2e" stroke="#2e2e2e" stroke-width="0.22">10</text>
<line x1="59.00" y1="685.40" x2="65.40" y2="685.40" stroke="#636363" stroke-width="1.5"/>
<text x="52.00" y="689.40" font-size="11.5" text-anchor="end" fill="#2e2e2e" stroke="#2e2e2e" stroke-width="0.22">20</text>
<line x1="59.00" y1="670.90" x2="65.40" y2="670.90" stroke="#636363" stroke-width="1.5"/>
<text x="52.00" y="674.90" font-size="11.5" text-anchor="end" fill="#2e2e2e" stroke="#2e2e2e" stroke-width="0.22">30</text>
<line x1="59.00" y1="656.40" x2="65.40" y2="656.40" stroke="#636363" stroke-width="1.5"/>
<text x="52.00" y="660.40" font-size="11.5" text-anchor="end" fill="#2e2e2e" stroke="#2e2e2e" stroke-width="0.22">40</text>
<line x1="59.00" y1="641.90" x2="65.40" y2="641.90" stroke="#636363" stroke-width="1.5"/>
<text x="52.00" y="645.90" font-size="11.5" text-anchor="end" fill="#2e2e2e" stroke="#2e2e2e" stroke-width="0.22">50</text>
<line x1="59.00" y1="627.40" x2="65.40" y2="627.40" stroke="#636363" stroke-width="1.5"/>
<text x="52.00" y="631.40" font-size="11.5" text-anchor="end" fill="#2e2e2e" stroke="#2e2e2e" stroke-width="0.22">60</text>
<line x1="59.00" y1="612.90" x2="65.40" y2="612.90" stroke="#636363" stroke-width="1.5"/>
<text x="52.00" y="616.90" font-size="11.5" text-anchor="end" fill="#2e2e2e" stroke="#2e2e2e" stroke-width="0.22">70</text>
<line x1="59.00" y1="598.40" x2="65.40" y2="598.40" stroke="#636363" stroke-width="1.5"/>
<text x="52.00" y="602.40" font-size="11.5" text-anchor="end" fill="#2e2e2e" stroke="#2e2e2e" stroke-width="0.22">80</text>
<line x1="59.00" y1="583.90" x2="65.40" y2="583.90" stroke="#636363" stroke-width="1.5"/>
<line x1="59.00" y1="569.40" x2="65.40" y2="569.40" stroke="#636363" stroke-width="1.5"/>
<line x1="65.40" y1="714.40" x2="65.40" y2="720.40" stroke="#636363" stroke-width="1.5"/>
<text x="65.40" y="732.80" font-size="11.5" text-anchor="middle" fill="#2e2e2e" stroke="#2e2e2e" stroke-width="0.22">0</text>
<line x1="100.74" y1="714.40" x2="100.74" y2="720.40" stroke="#636363" stroke-width="1.5"/>
<text x="100.74" y="732.80" font-size="11.5" text-anchor="middle" fill="#2e2e2e" stroke="#2e2e2e" stroke-width="0.22">30</text>
<line x1="136.09" y1="714.40" x2="136.09" y2="720.40" stroke="#636363" stroke-width="1.5"/>
<text x="136.09" y="732.80" font-size="11.5" text-anchor="middle" fill="#2e2e2e" stroke="#2e2e2e" stroke-width="0.22">60</text>
<line x1="171.43" y1="714.40" x2="171.43" y2="720.40" stroke="#636363" stroke-width="1.5"/>
<text x="171.43" y="732.80" font-size="11.5" text-anchor="middle" fill="#2e2e2e" stroke="#2e2e2e" stroke-width="0.22">90</text>
<line x1="206.77" y1="714.40" x2="206.77" y2="720.40" stroke="#636363" stroke-width="1.5"/>
<text x="206.77" y="732.80" font-size="11.5" text-anchor="middle" fill="#2e2e2e" stroke="#2e2e2e" stroke-width="0.22">120</text>
<line x1="242.11" y1="714.40" x2="242.11" y2="720.40" stroke="#636363" stroke-width="1.5"/>
<text x="242.11" y="732.80" font-size="11.5" text-anchor="middle" fill="#2e2e2e" stroke="#2e2e2e" stroke-width="0.22">150</text>
<line x1="277.46" y1="714.40" x2="277.46" y2="720.40" stroke="#636363" stroke-width="1.5"/>
<text x="277.46" y="732.80" font-size="11.5" text-anchor="middle" fill="#2e2e2e" stroke="#2e2e2e" stroke-width="0.22">180</text>
<line x1="312.80" y1="714.40" x2="312.80" y2="720.40" stroke="#636363" stroke-width="1.5"/>
<text x="312.80" y="732.80" font-size="11.5" text-anchor="middle" fill="#2e2e2e" stroke="#2e2e2e" stroke-width="0.22">210</text>
<line x1="348.14" y1="714.40" x2="348.14" y2="720.40" stroke="#636363" stroke-width="1.5"/>
<text x="348.14" y="732.80" font-size="11.5" text-anchor="middle" fill="#2e2e2e" stroke="#2e2e2e" stroke-width="0.22">240</text>
<line x1="383.49" y1="714.40" x2="383.49" y2="720.40" stroke="#636363" stroke-width="1.5"/>
<text x="383.49" y="732.80" font-size="11.5" text-anchor="middle" fill="#2e2e2e" stroke="#2e2e2e" stroke-width="0.22">270</text>
<line x1="418.83" y1="714.40" x2="418.83" y2="720.40" stroke="#636363" stroke-width="1.5"/>
<text x="418.83" y="732.80" font-size="11.5" text-anchor="middle" fill="#2e2e2e" stroke="#2e2e2e" stroke-width="0.22">300</text>
<line x1="454.17" y1="714.40" x2="454.17" y2="720.40" stroke="#636363" stroke-width="1.5"/>
<text x="454.17" y="732.80" font-size="11.5" text-anchor="middle" fill="#2e2e2e" stroke="#2e2e2e" stroke-width="0.22">330</text>
<line x1="489.51" y1="714.40" x2="489.51" y2="720.40" stroke="#636363" stroke-width="1.5"/>
<text x="489.51" y="732.80" font-size="11.5" text-anchor="middle" fill="#2e2e2e" stroke="#2e2e2e" stroke-width="0.22">360</text>
<line x1="524.86" y1="714.40" x2="524.86" y2="720.40" stroke="#636363" stroke-width="1.5"/>
<line x1="560.20" y1="714.40" x2="560.20" y2="720.40" stroke="#636363" stroke-width="1.5"/>
<text x="518.20" y="733.00" font-size="12" text-anchor="start" textLength="42.5" lengthAdjust="spacingAndGlyphs" fill="#2e2e2e" stroke="#2e2e2e" stroke-width="0.22">Q[m<tspan font-size="6.5" dy="-5">3</tspan><tspan dy="5">/h]</tspan></text>
<line x1="560.20" y1="714.40" x2="566.70" y2="714.40" stroke="#636363" stroke-width="1.5"/>
<text x="570.40" y="718.40" font-size="11.5" text-anchor="start" fill="#2e2e2e" stroke="#2e2e2e" stroke-width="0.22">0</text>
<line x1="560.20" y1="699.94" x2="566.70" y2="699.94" stroke="#636363" stroke-width="1.5"/>
<text x="570.40" y="703.94" font-size="11.5" text-anchor="start" fill="#2e2e2e" stroke="#2e2e2e" stroke-width="0.22">2</text>
<line x1="560.20" y1="685.48" x2="566.70" y2="685.48" stroke="#636363" stroke-width="1.5"/>
<text x="570.40" y="689.48" font-size="11.5" text-anchor="start" fill="#2e2e2e" stroke="#2e2e2e" stroke-width="0.22">4</text>
<line x1="560.20" y1="671.02" x2="566.70" y2="671.02" stroke="#636363" stroke-width="1.5"/>
<text x="570.40" y="675.02" font-size="11.5" text-anchor="start" fill="#2e2e2e" stroke="#2e2e2e" stroke-width="0.22">6</text>
<line x1="560.20" y1="656.56" x2="566.70" y2="656.56" stroke="#636363" stroke-width="1.5"/>
<text x="570.40" y="660.56" font-size="11.5" text-anchor="start" fill="#2e2e2e" stroke="#2e2e2e" stroke-width="0.22">8</text>
<line x1="560.20" y1="642.10" x2="566.70" y2="642.10" stroke="#636363" stroke-width="1.5"/>
<text x="570.40" y="646.10" font-size="11.5" text-anchor="start" fill="#2e2e2e" stroke="#2e2e2e" stroke-width="0.22">10</text>
<text x="44.80" y="563.60" font-size="13.5" text-anchor="middle" fill="#2e2e2e" stroke="#2e2e2e" stroke-width="0.22">η</text>
<text x="36.00" y="578.40" font-size="10.5" text-anchor="start" textLength="18.0" lengthAdjust="spacingAndGlyphs" fill="#2e2e2e" stroke="#2e2e2e" stroke-width="0.22">[%]</text>
<text x="555.90" y="564.80" font-size="11.2" text-anchor="start" textLength="36.3" lengthAdjust="spacingAndGlyphs" fill="#2e2e2e" stroke="#2e2e2e" stroke-width="0.22">NPSH</text>
<text x="564.70" y="575.60" font-size="10.5" text-anchor="start" textLength="17.4" lengthAdjust="spacingAndGlyphs" fill="#2e2e2e" stroke="#2e2e2e" stroke-width="0.22">[m]</text>
<line x1="65.40" y1="745.30" x2="560.70" y2="745.30" stroke="#636363" stroke-width="1.5"/>
<line x1="65.40" y1="745.30" x2="65.40" y2="749.10" stroke="#636363" stroke-width="1.5"/>
<text x="65.40" y="765.40" font-size="11.5" text-anchor="middle" fill="#2e2e2e" stroke="#2e2e2e" stroke-width="0.22">0</text>
<line x1="107.82" y1="745.30" x2="107.82" y2="749.10" stroke="#636363" stroke-width="1.5"/>
<text x="107.82" y="765.40" font-size="11.5" text-anchor="middle" fill="#2e2e2e" stroke="#2e2e2e" stroke-width="0.22">10</text>
<line x1="150.23" y1="745.30" x2="150.23" y2="749.10" stroke="#636363" stroke-width="1.5"/>
<text x="150.23" y="765.40" font-size="11.5" text-anchor="middle" fill="#2e2e2e" stroke="#2e2e2e" stroke-width="0.22">20</text>
<line x1="192.65" y1="745.30" x2="192.65" y2="749.10" stroke="#636363" stroke-width="1.5"/>
<text x="192.65" y="765.40" font-size="11.5" text-anchor="middle" fill="#2e2e2e" stroke="#2e2e2e" stroke-width="0.22">30</text>
<line x1="235.06" y1="745.30" x2="235.06" y2="749.10" stroke="#636363" stroke-width="1.5"/>
<text x="235.06" y="765.40" font-size="11.5" text-anchor="middle" fill="#2e2e2e" stroke="#2e2e2e" stroke-width="0.22">40</text>
<line x1="277.48" y1="745.30" x2="277.48" y2="749.10" stroke="#636363" stroke-width="1.5"/>
<text x="277.48" y="765.40" font-size="11.5" text-anchor="middle" fill="#2e2e2e" stroke="#2e2e2e" stroke-width="0.22">50</text>
<line x1="319.89" y1="745.30" x2="319.89" y2="749.10" stroke="#636363" stroke-width="1.5"/>
<text x="319.89" y="765.40" font-size="11.5" text-anchor="middle" fill="#2e2e2e" stroke="#2e2e2e" stroke-width="0.22">60</text>
<line x1="362.31" y1="745.30" x2="362.31" y2="749.10" stroke="#636363" stroke-width="1.5"/>
<text x="362.31" y="765.40" font-size="11.5" text-anchor="middle" fill="#2e2e2e" stroke="#2e2e2e" stroke-width="0.22">70</text>
<line x1="404.72" y1="745.30" x2="404.72" y2="749.10" stroke="#636363" stroke-width="1.5"/>
<text x="404.72" y="765.40" font-size="11.5" text-anchor="middle" fill="#2e2e2e" stroke="#2e2e2e" stroke-width="0.22">80</text>
<line x1="447.13" y1="745.30" x2="447.13" y2="749.10" stroke="#636363" stroke-width="1.5"/>
<text x="447.13" y="765.40" font-size="11.5" text-anchor="middle" fill="#2e2e2e" stroke="#2e2e2e" stroke-width="0.22">90</text>
<line x1="489.55" y1="745.30" x2="489.55" y2="749.10" stroke="#636363" stroke-width="1.5"/>
<text x="489.55" y="765.40" font-size="11.5" text-anchor="middle" fill="#2e2e2e" stroke="#2e2e2e" stroke-width="0.22">100</text>
<line x1="531.97" y1="745.30" x2="531.97" y2="749.10" stroke="#636363" stroke-width="1.5"/>
<text x="531.60" y="765.40" font-size="12" text-anchor="start" textLength="30.4" lengthAdjust="spacingAndGlyphs" fill="#2e2e2e" stroke="#2e2e2e" stroke-width="0.22">Q[l/s]</text>
<text x="498.20" y="15.50" font-size="16.3" textLength="37.20" lengthAdjust="spacingAndGlyphs" fill="#2e2e2e" stroke="#2e2e2e" stroke-width="0.3">1480</text>
<text x="538.60" y="15.50" font-size="16.3" textLength="29.80" lengthAdjust="spacingAndGlyphs" fill="#2e2e2e" stroke="#2e2e2e" stroke-width="0.3">rpm</text>
<text x="499.90" y="48.60" font-size="14.4" textLength="45.00" lengthAdjust="spacingAndGlyphs" fill="#2e2e2e" stroke="#2e2e2e" stroke-width="0.3">TD200</text>
<line x1="570.50" y1="13.00" x2="588.50" y2="44.50" stroke="#c9284a" stroke-width="1.5"/>
<line x1="549.50" y1="46.50" x2="586.70" y2="80.10" stroke="#c9284a" stroke-width="1.5"/>
<line x1="103.00" y1="60.60" x2="584.50" y2="115.80" stroke="#c9284a" stroke-width="1.6"/>
<line x1="479.40" y1="148.40" x2="578.50" y2="211.50" stroke="#c9284a" stroke-width="1.5"/>
<line x1="501.20" y1="419.20" x2="593.20" y2="462.70" stroke="#c9284a" stroke-width="1.5"/>
<line x1="497.30" y1="598.80" x2="600.70" y2="616.70" stroke="#c9284a" stroke-width="1.5"/>
<line x1="474.30" y1="690.20" x2="600.70" y2="675.20" stroke="#c9284a" stroke-width="1.5"/>
<text x="589.50" y="56.10" font-size="13.4" textLength="158.20" lengthAdjust="spacingAndGlyphs" fill="#2e2e2e" stroke="#2e2e2e" stroke-width="0.3">Номинальная частота</text>
<text x="589.60" y="66.10" font-size="13.4" textLength="72.00" lengthAdjust="spacingAndGlyphs" fill="#2e2e2e" stroke="#2e2e2e" stroke-width="0.3">вращения</text>
<text x="589.60" y="84.90" font-size="13.4" textLength="104.20" lengthAdjust="spacingAndGlyphs" fill="#2e2e2e" stroke="#2e2e2e" stroke-width="0.3">Серия насоса</text>
<text x="592.90" y="119.70" font-size="13.8" textLength="63.20" lengthAdjust="spacingAndGlyphs" fill="#2e2e2e" stroke="#2e2e2e" stroke-width="0.3">Модель</text>
<text x="590.00" y="157.70" font-size="16.2" textLength="86.00" lengthAdjust="spacingAndGlyphs" fill="#2e2e2e" stroke="#2e2e2e" stroke-width="0.3">Расходно-</text>
<text x="589.60" y="177.30" font-size="16.2" textLength="101.60" lengthAdjust="spacingAndGlyphs" fill="#2e2e2e" stroke="#2e2e2e" stroke-width="0.3">перепадная</text>
<text x="590.60" y="196.90" font-size="16.2" textLength="139.40" lengthAdjust="spacingAndGlyphs" fill="#2e2e2e" stroke="#2e2e2e" stroke-width="0.3">характеристика.</text>
<text x="591.10" y="216.50" font-size="16.2" textLength="161.60" lengthAdjust="spacingAndGlyphs" fill="#2e2e2e" stroke="#2e2e2e" stroke-width="0.3">Толстыми линиями</text>
<text x="589.60" y="236.10" font-size="16.2" textLength="74.60" lengthAdjust="spacingAndGlyphs" fill="#2e2e2e" stroke="#2e2e2e" stroke-width="0.3">выделен</text>
<text x="589.60" y="255.70" font-size="16.2" textLength="138.40" lengthAdjust="spacingAndGlyphs" fill="#2e2e2e" stroke="#2e2e2e" stroke-width="0.3">рекомендуемый</text>
<text x="589.60" y="275.30" font-size="16.2" textLength="159.60" lengthAdjust="spacingAndGlyphs" fill="#2e2e2e" stroke="#2e2e2e" stroke-width="0.3">рабочий диапазон.</text>
<text transform="translate(595.20,403.80) scale(1.13,1)" x="0" y="0" font-size="13.6" textLength="92.39" lengthAdjust="spacing" fill="#2e2e2e" stroke="#2e2e2e" stroke-width="0.25">Зависимость</text>
<text transform="translate(595.20,421.25) scale(1.13,1)" x="0" y="0" font-size="13.6" textLength="88.32" lengthAdjust="spacing" fill="#2e2e2e" stroke="#2e2e2e" stroke-width="0.25">мощности от</text>
<text transform="translate(595.20,438.70) scale(1.13,1)" x="0" y="0" font-size="13.6" textLength="57.88" lengthAdjust="spacing" fill="#2e2e2e" stroke="#2e2e2e" stroke-width="0.25">расхода</text>
<text transform="translate(594.70,456.15) scale(1.13,1)" x="0" y="0" font-size="13.6" textLength="110.27" lengthAdjust="spacing" fill="#2e2e2e" stroke="#2e2e2e" stroke-width="0.25">Каждой модели</text>
<text transform="translate(596.20,473.60) scale(1.13,1)" x="0" y="0" font-size="13.6" textLength="98.58" lengthAdjust="spacing" fill="#2e2e2e" stroke="#2e2e2e" stroke-width="0.25">соответствует</text>
<text transform="translate(595.20,491.05) scale(1.13,1)" x="0" y="0" font-size="13.6" textLength="127.61" lengthAdjust="spacing" fill="#2e2e2e" stroke="#2e2e2e" stroke-width="0.25">кривая мощности.</text>
<text x="599.80" y="620.40" font-size="13.0" textLength="164.00" lengthAdjust="spacingAndGlyphs" fill="#2e2e2e" stroke="#2e2e2e" stroke-width="0.25">Кривая КПД насоса (η)</text>
<text x="603.00" y="672.50" font-size="13.0" textLength="97.40" lengthAdjust="spacingAndGlyphs" fill="#2e2e2e" stroke="#2e2e2e" stroke-width="0.25">Кривая NPSH</text>
</svg>
</body></html>
